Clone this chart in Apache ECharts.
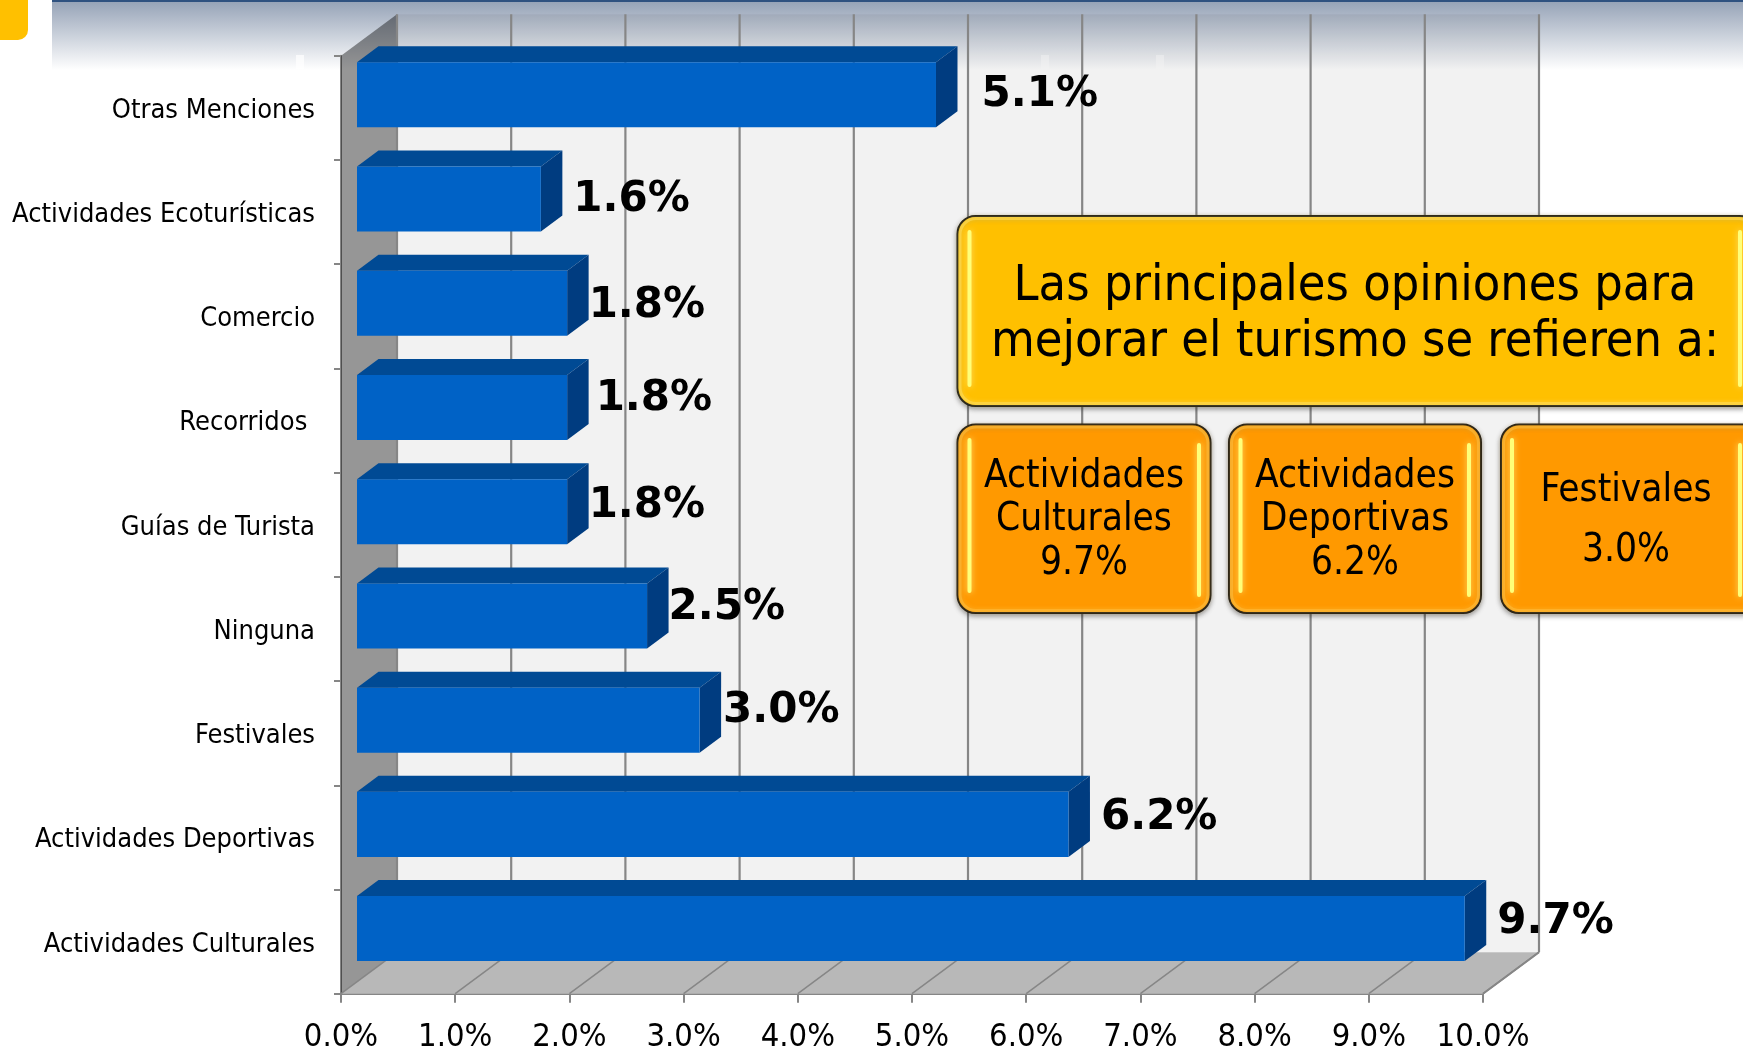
<!DOCTYPE html>
<html><head><meta charset="utf-8">
<style>html,body{margin:0;padding:0;background:#fff}#c{width:1743px;height:1051px}</style>
<script src="https://cdn.jsdelivr.net/npm/echarts@6/dist/echarts.min.js"></script>
</head><body><div id="c"></div>
<script>
const categories = ['Actividades Culturales','Actividades Deportivas','Festivales','Ninguna','Guías de Turista','Recorridos ','Comercio','Actividades Ecoturísticas','Otras Menciones'];
const values = [9.7, 6.23, 3.0, 2.54, 1.84, 1.84, 1.84, 1.61, 5.07];
const xTicks = [0,1,2,3,4,5,6,7,8,9,10];
const calloutTitle = ['Las principales opiniones para','mejorar el turismo se refieren a:'];
const calloutCards = [
  ['Actividades','Culturales','9.7%'],
  ['Actividades','Deportivas','6.2%'],
  ['Festivales','3.0%']
];
// hand-placed label nudges from the bar end, px
const labelShift = [[11,-6],[11,-6],[2,-9],[0,-8],[0,-6],[7,-8],[0,3],[11,1],[24,0]];

const FONT = '"DejaVu Sans Condensed","DejaVu Sans",sans-serif';
const LINE = '#868686';
const G = {left:341, top:55.7, width:1142, height:938};
const WALL = {dx:56, dy:41.5};
const BAR = {sx:16, sy:-13, dx:21.5, dy:16, ratio:0.624};

function wallItem(params, api){
  const cs = params.coordSys, x0 = cs.x, x1 = cs.x+cs.width, y0 = cs.y, y1 = cs.y+cs.height;
  const d = WALL;
  return {type:'group', children:[
    {type:'polygon', shape:{points:[[x0+d.dx,y0-d.dy],[x1+d.dx,y0-d.dy],[x1+d.dx,y1-d.dy],[x0+d.dx,y1-d.dy]]}, style:{fill:'rgba(0,0,0,0.05)'}},
    {type:'polygon', shape:{points:[[x0,y0],[x0+d.dx,y0-d.dy],[x0+d.dx,y1-d.dy],[x0,y1]]}, style:{fill:'rgba(0,0,0,0.41)'}},
    {type:'polygon', shape:{points:[[x0,y1],[x1,y1],[x1+d.dx,y1-d.dy],[x0+d.dx,y1-d.dy]]}, style:{fill:'#b8b8b8'}},
    {type:'line', shape:{x1:x1,y1:y1,x2:x1+d.dx,y2:y1-d.dy}, style:{stroke:LINE,lineWidth:2}}
  ]};
}
function gridItem(params, api){
  const p = api.coord([api.value(0), 0]);
  const cs = params.coordSys, d = WALL, y0 = cs.y, y1 = cs.y+cs.height, x = p[0];
  return {type:'group', children:[
    {type:'line', shape:{x1:x+d.dx,y1:y0-d.dy,x2:x+d.dx,y2:y1-d.dy}, style:{stroke:LINE,lineWidth:2.2}},
    {type:'line', shape:{x1:x,y1:y1,x2:x+d.dx,y2:y1-d.dy}, style:{stroke:LINE,lineWidth:1.5}}
  ]};
}
function barItem(params, api){
  const v = api.value(0), i = api.value(1);
  const p0 = api.coord([0,i]), p1 = api.coord([v,i]);
  const h = api.size([0,1])[1]*BAR.ratio/2;
  const l = p0[0]+BAR.sx, r = p1[0]+BAR.sx, t = p0[1]+BAR.sy-h, b = p0[1]+BAR.sy+h;
  const dx = BAR.dx, dy = BAR.dy, s = labelShift[params.dataIndex];
  return {type:'group', children:[
    {type:'polygon', shape:{points:[[l,t],[l+dx,t-dy],[r+dx,t-dy],[r,t]]}, style:{fill:'#004a94'}},
    {type:'polygon', shape:{points:[[r,t],[r+dx,t-dy],[r+dx,b-dy],[r,b]]}, style:{fill:'#003c80'}},
    {type:'rect', shape:{x:l,y:t,width:r-l,height:b-t}, style:{fill:'#0062c6'}},
    {type:'text', x:r+dx+s[0], y:(t+b)/2+s[1], style:{text:v.toFixed(1)+'%', fill:'#000', font:'bold 42px "DejaVu Sans",sans-serif', textAlign:'left', textVerticalAlign:'middle'}}
  ]};
}

function card(x,y,w,h,base,light,lines,lh,fs,cx,leftBar,rightBar,z,dy){
  const out = [];
  out.push({type:'rect', z:z, shape:{x:x,y:y,width:w,height:h,r:18},
    style:{fill:base,stroke:'#111',lineWidth:2,shadowBlur:5,shadowColor:'rgba(0,0,0,0.35)',shadowOffsetY:2}});
  out.push({type:'rect', z:z, shape:{x:x+2.5,y:y+2.5,width:w-5,height:h-5,r:16},
    style:{fill:'none',stroke:light,lineWidth:3,opacity:0.55,shadowBlur:4,shadowColor:light}});
  [leftBar,rightBar].forEach(b=>{
    out.push({type:'rect', z:z+1, shape:{x:b[0]-2,y:b[1],width:4,height:b[2]-b[1],r:2},
      style:{fill:'#ffff78',shadowBlur:6,shadowColor:'#ffe070'}});
  });
  const cy = y+h/2+dy;
  lines.forEach((t,i)=>{
    out.push({type:'text', z:z+2, x:cx, y:cy+(i-(lines.length-1)/2)*lh,
      style:{text:t,fill:'#000',font:fs+'px '+FONT,textAlign:'center',textVerticalAlign:'middle'}});
  });
  return out;
}

const graphics = [
  {type:'rect', z:-2, shape:{x:52,y:2,width:1691,height:68}, style:{fill:{type:'linear',x:0,y:0,x2:0,y2:1,colorStops:[{offset:0,color:'#97a4b8'},{offset:1,color:'#ffffff'}]}}},
  {type:'rect', z:-2, shape:{x:52,y:0,width:1691,height:2}, style:{fill:'#2f5280'}},
  {type:'rect', z:-2, shape:{x:-20,y:-20,width:48,height:60,r:10}, style:{fill:'#ffc000'}},
  {type:'rect', z:-1, shape:{x:296,y:55,width:8,height:14}, style:{fill:'#fff',opacity:0.7}},
  {type:'rect', z:-1, shape:{x:1041,y:55,width:8,height:14}, style:{fill:'#fff',opacity:0.5}},
  {type:'rect', z:-1, shape:{x:1156,y:55,width:8,height:14}, style:{fill:'#fff',opacity:0.5}},
  ...card(957.5,216,800,190,'#ffc000','#ffe060',calloutTitle,56,50,1355,[969.5,230,387],[1740,230,387],100,4),
  ...card(957.5,424.5,253,188.5,'#ff9900','#ffc040',calloutCards[0],43.5,38.5,1084,[969.5,438,593],[1199,443,597],100,1.5),
  ...card(1229,424.5,252,188.5,'#ff9900','#ffc040',calloutCards[1],43.5,38.5,1355,[1240.5,438,593],[1469,443,597],100,1.5),
  ...card(1501,424.5,260,188.5,'#ff9900','#ffc040',calloutCards[2],60,38.5,1626,[1512,438,593],[1740,443,597],100,2)
];

const chart = echarts.init(document.getElementById('c'), null, {renderer:'canvas'});
chart.setOption({
  animation:false,
  backgroundColor:'#fff',
  grid:{left:G.left, top:G.top, width:G.width, height:G.height, containLabel:false, outerBoundsMode:'none'},
  xAxis:{type:'value', min:0, max:10, interval:1,
    axisLine:{show:true,lineStyle:{color:LINE,width:2}},
    axisTick:{show:true,length:9,lineStyle:{color:LINE,width:2}},
    splitLine:{show:false},
    axisLabel:{color:'#000',fontFamily:FONT,fontSize:32.5,margin:27,formatter:v=>v.toFixed(1)+'%'}},
  yAxis:{type:'category', data:categories,
    axisLine:{show:true,lineStyle:{color:LINE,width:2}},
    axisTick:{show:true,length:7,lineStyle:{color:LINE,width:2}},
    splitLine:{show:false},
    axisLabel:{color:'#000',fontFamily:FONT,fontSize:27,margin:26,verticalAlign:'top',lineHeight:6}},
  graphic:{elements:graphics},
  series:[
    {type:'custom', name:'walls', coordinateSystem:'cartesian2d', z:1, silent:true, clip:false, renderItem:wallItem, data:[[0,0]], encode:{x:0,y:1}},
    {type:'custom', name:'gridlines', coordinateSystem:'cartesian2d', z:1.5, silent:true, clip:false, renderItem:gridItem, data:xTicks.map(t=>[t,0]), encode:{x:0,y:1}},
    {type:'custom', name:'bars', coordinateSystem:'cartesian2d', z:3, clip:false, renderItem:barItem, data:values.map((v,i)=>[v,i]), encode:{x:0,y:1}}
  ]
});
</script></body></html>
